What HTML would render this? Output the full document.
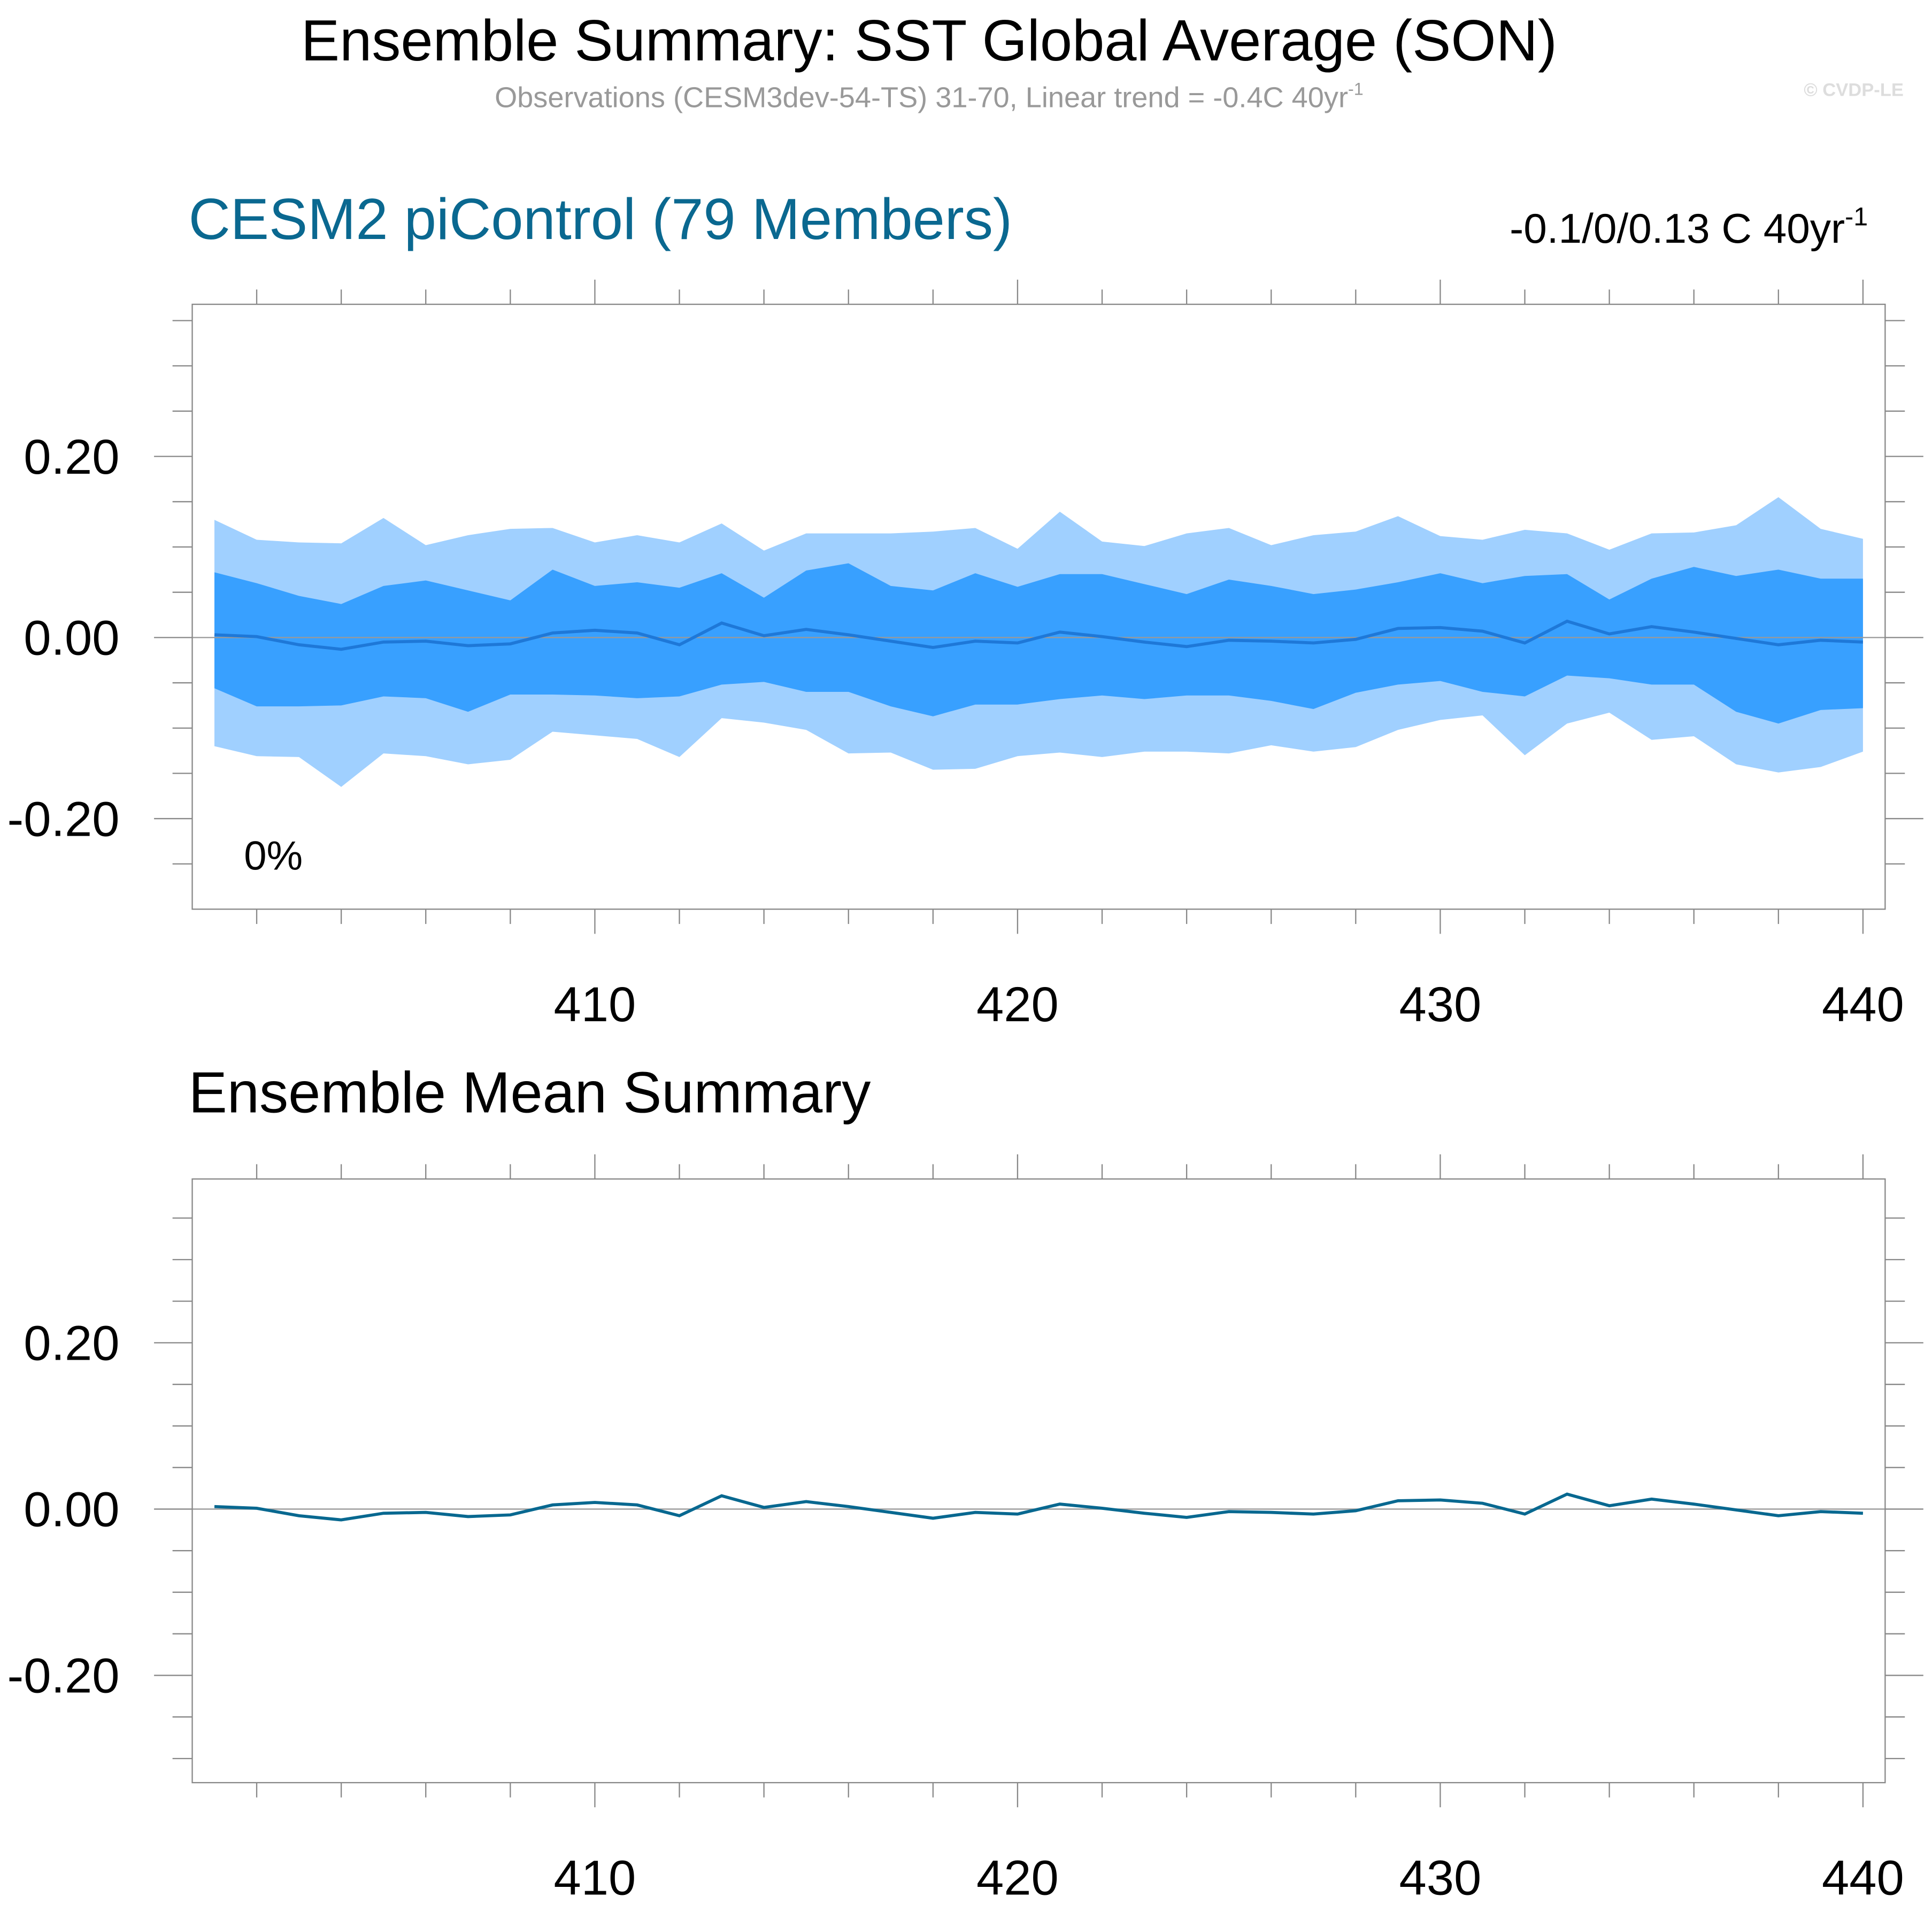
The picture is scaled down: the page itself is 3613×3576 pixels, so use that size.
<!DOCTYPE html>
<html><head><meta charset="utf-8"><style>
html,body{margin:0;padding:0;background:#fff;}
svg{display:block;font-family:"Liberation Sans",Arial,sans-serif;}
</style></head><body>
<svg id="chart" width="3613" height="3576" viewBox="0 0 1568 1552" xmlns="http://www.w3.org/2000/svg">
<text x="754" y="49" font-size="47" text-anchor="middle">Ensemble Summary: SST Global Average (SON)</text>
<text x="754" y="87" font-size="23.5" fill="#999" text-anchor="middle">Observations (CESM3dev-54-TS) 31-70, Linear trend = -0.4C 40yr<tspan font-size="14" dy="-10">-1</tspan></text>
<text x="1545" y="78" font-size="15" font-weight="bold" fill="#ddd" text-anchor="end">© CVDP-LE</text>
<text x="153" y="194" font-size="47" fill="#0a6890">CESM2 piControl (79 Members)</text>
<text x="1516" y="197" font-size="34" text-anchor="end">-0.1/0/0.13 C 40yr<tspan font-size="21" dy="-14">-1</tspan></text>
<text x="153" y="903" font-size="47">Ensemble Mean Summary</text>
<g id="p1"></g>
<g id="p2"></g>
</svg>
<script>
const years = Array.from({length:40},(_,i)=>401+i);
const meanVals = [0.003,0.001,-0.008,-0.013,-0.005,-0.004,-0.009,-0.007,0.005,0.008,0.005,-0.008,0.016,0.002,0.009,0.003,-0.004,-0.011,-0.004,-0.006,0.006,0.001,-0.005,-0.010,-0.003,-0.004,-0.006,-0.002,0.010,0.011,0.007,-0.006,0.018,0.004,0.012,0.006,-0.001,-0.008,-0.003,-0.005];
const outerTop = [0.13,0.108,0.105,0.104,0.132,0.102,0.113,0.12,0.121,0.105,0.113,0.105,0.126,0.096,0.115,0.115,0.115,0.117,0.121,0.098,0.139,0.106,0.101,0.115,0.121,0.102,0.113,0.117,0.134,0.112,0.108,0.119,0.115,0.097,0.115,0.116,0.124,0.155,0.12,0.109];
const innerTop = [0.072,0.06,0.046,0.037,0.057,0.063,0.052,0.041,0.075,0.057,0.061,0.055,0.071,0.044,0.074,0.082,0.057,0.052,0.071,0.056,0.07,0.07,0.059,0.048,0.064,0.057,0.048,0.053,0.061,0.071,0.06,0.068,0.07,0.042,0.065,0.078,0.068,0.075,0.065,0.065];
const innerBot = [-0.056,-0.076,-0.076,-0.075,-0.065,-0.067,-0.082,-0.063,-0.063,-0.064,-0.067,-0.065,-0.052,-0.049,-0.06,-0.06,-0.076,-0.087,-0.074,-0.074,-0.068,-0.064,-0.068,-0.064,-0.064,-0.07,-0.079,-0.061,-0.052,-0.048,-0.06,-0.065,-0.042,-0.045,-0.052,-0.052,-0.082,-0.095,-0.08,-0.078];
const outerBot = [-0.12,-0.131,-0.132,-0.165,-0.128,-0.131,-0.14,-0.135,-0.104,-0.108,-0.112,-0.132,-0.089,-0.094,-0.102,-0.128,-0.127,-0.146,-0.145,-0.131,-0.127,-0.132,-0.126,-0.126,-0.128,-0.119,-0.126,-0.121,-0.102,-0.091,-0.086,-0.13,-0.095,-0.083,-0.113,-0.109,-0.14,-0.149,-0.143,-0.126];
const xTickLabels = [410,420,430,440];
const yTickLabels = [-0.2,0,0.2];

const NS="http://www.w3.org/2000/svg";
function mk(parent,tag,attrs){const e=document.createElementNS(NS,tag);for(const k in attrs)e.setAttribute(k,attrs[k]);parent.appendChild(e);return e;}
const xs = v => 174 + (v-401)*(1512-174)/39;

function panel(g, top, bot, yMax, yMin, band){
  const L=156,R=1530;
  const ys = v => top + (yMax - v)*(bot-top)/(yMax-yMin);
  if(band){
    const poly=(hi,lo,fill,name)=>{
      let pts=years.map((y,i)=>xs(y)+","+ys(hi[i]));
      pts=pts.concat(years.slice().reverse().map((y,j)=>xs(y)+","+ys(lo[39-j])));
      const p=mk(g,"polygon",{points:pts.join(" "),fill:fill});
      
      
    };
    poly(outerTop,outerBot,"#a0d0ff","outer-spread-band");
    poly(innerTop,innerBot,"#38a0ff","inner-spread-band");
  }
  const z=mk(g,"line",{x1:L,x2:R,y1:ys(0),y2:ys(0),stroke:"#999","stroke-width":1});
  
  
  const ln=mk(g,"polyline",{points:years.map((y,i)=>xs(y)+","+ys(meanVals[i])).join(" "),fill:"none",stroke:band?"#1e78d8":"#086890","stroke-width":2.5});
  
  
  const fr=mk(g,"rect",{x:L,y:top,width:R-L,height:bot-top,fill:"none",stroke:"#888","stroke-width":1});
  
  
  for(let y=402;y<=440;y+=2){
    const major=(y%10===0);const len=major?20:12;const x=xs(y);
    mk(g,"line",{x1:x,x2:x,y1:top,y2:top-len,stroke:"#888","stroke-width":1});
    mk(g,"line",{x1:x,x2:x,y1:bot,y2:bot+len,stroke:"#888","stroke-width":1});
  }
  xTickLabels.forEach(v=>{
    const t=mk(g,"text",{x:xs(v),y:bot+91,"font-size":40,"text-anchor":"middle"});t.textContent=v;
    
    
  });
  for(let k=Math.ceil(yMin/0.05);k*0.05<=yMax+1e-9;k++){
    const v=k*0.05;const major=(Math.abs(Math.round(k)%4)===0);const len=major?31:16;const y=ys(v);
    mk(g,"line",{x1:L,x2:L-len,y1:y,y2:y,stroke:"#888","stroke-width":1});
    mk(g,"line",{x1:R,x2:R+len,y1:y,y2:y,stroke:"#888","stroke-width":1});
  }
  yTickLabels.forEach(v=>{
    const t=mk(g,"text",{x:97,y:ys(v)+14,"font-size":40,"text-anchor":"end"});
    t.textContent=v.toFixed(2);
    
    
  });
}
panel(document.getElementById("p1"),247,738,0.368,-0.30,true);
panel(document.getElementById("p2"),957,1447,0.397,-0.329,false);
const pct=mk(document.getElementById("p1"),"text",{x:198,y:706,"font-size":33});pct.textContent="0%";


</script>
</body></html>
